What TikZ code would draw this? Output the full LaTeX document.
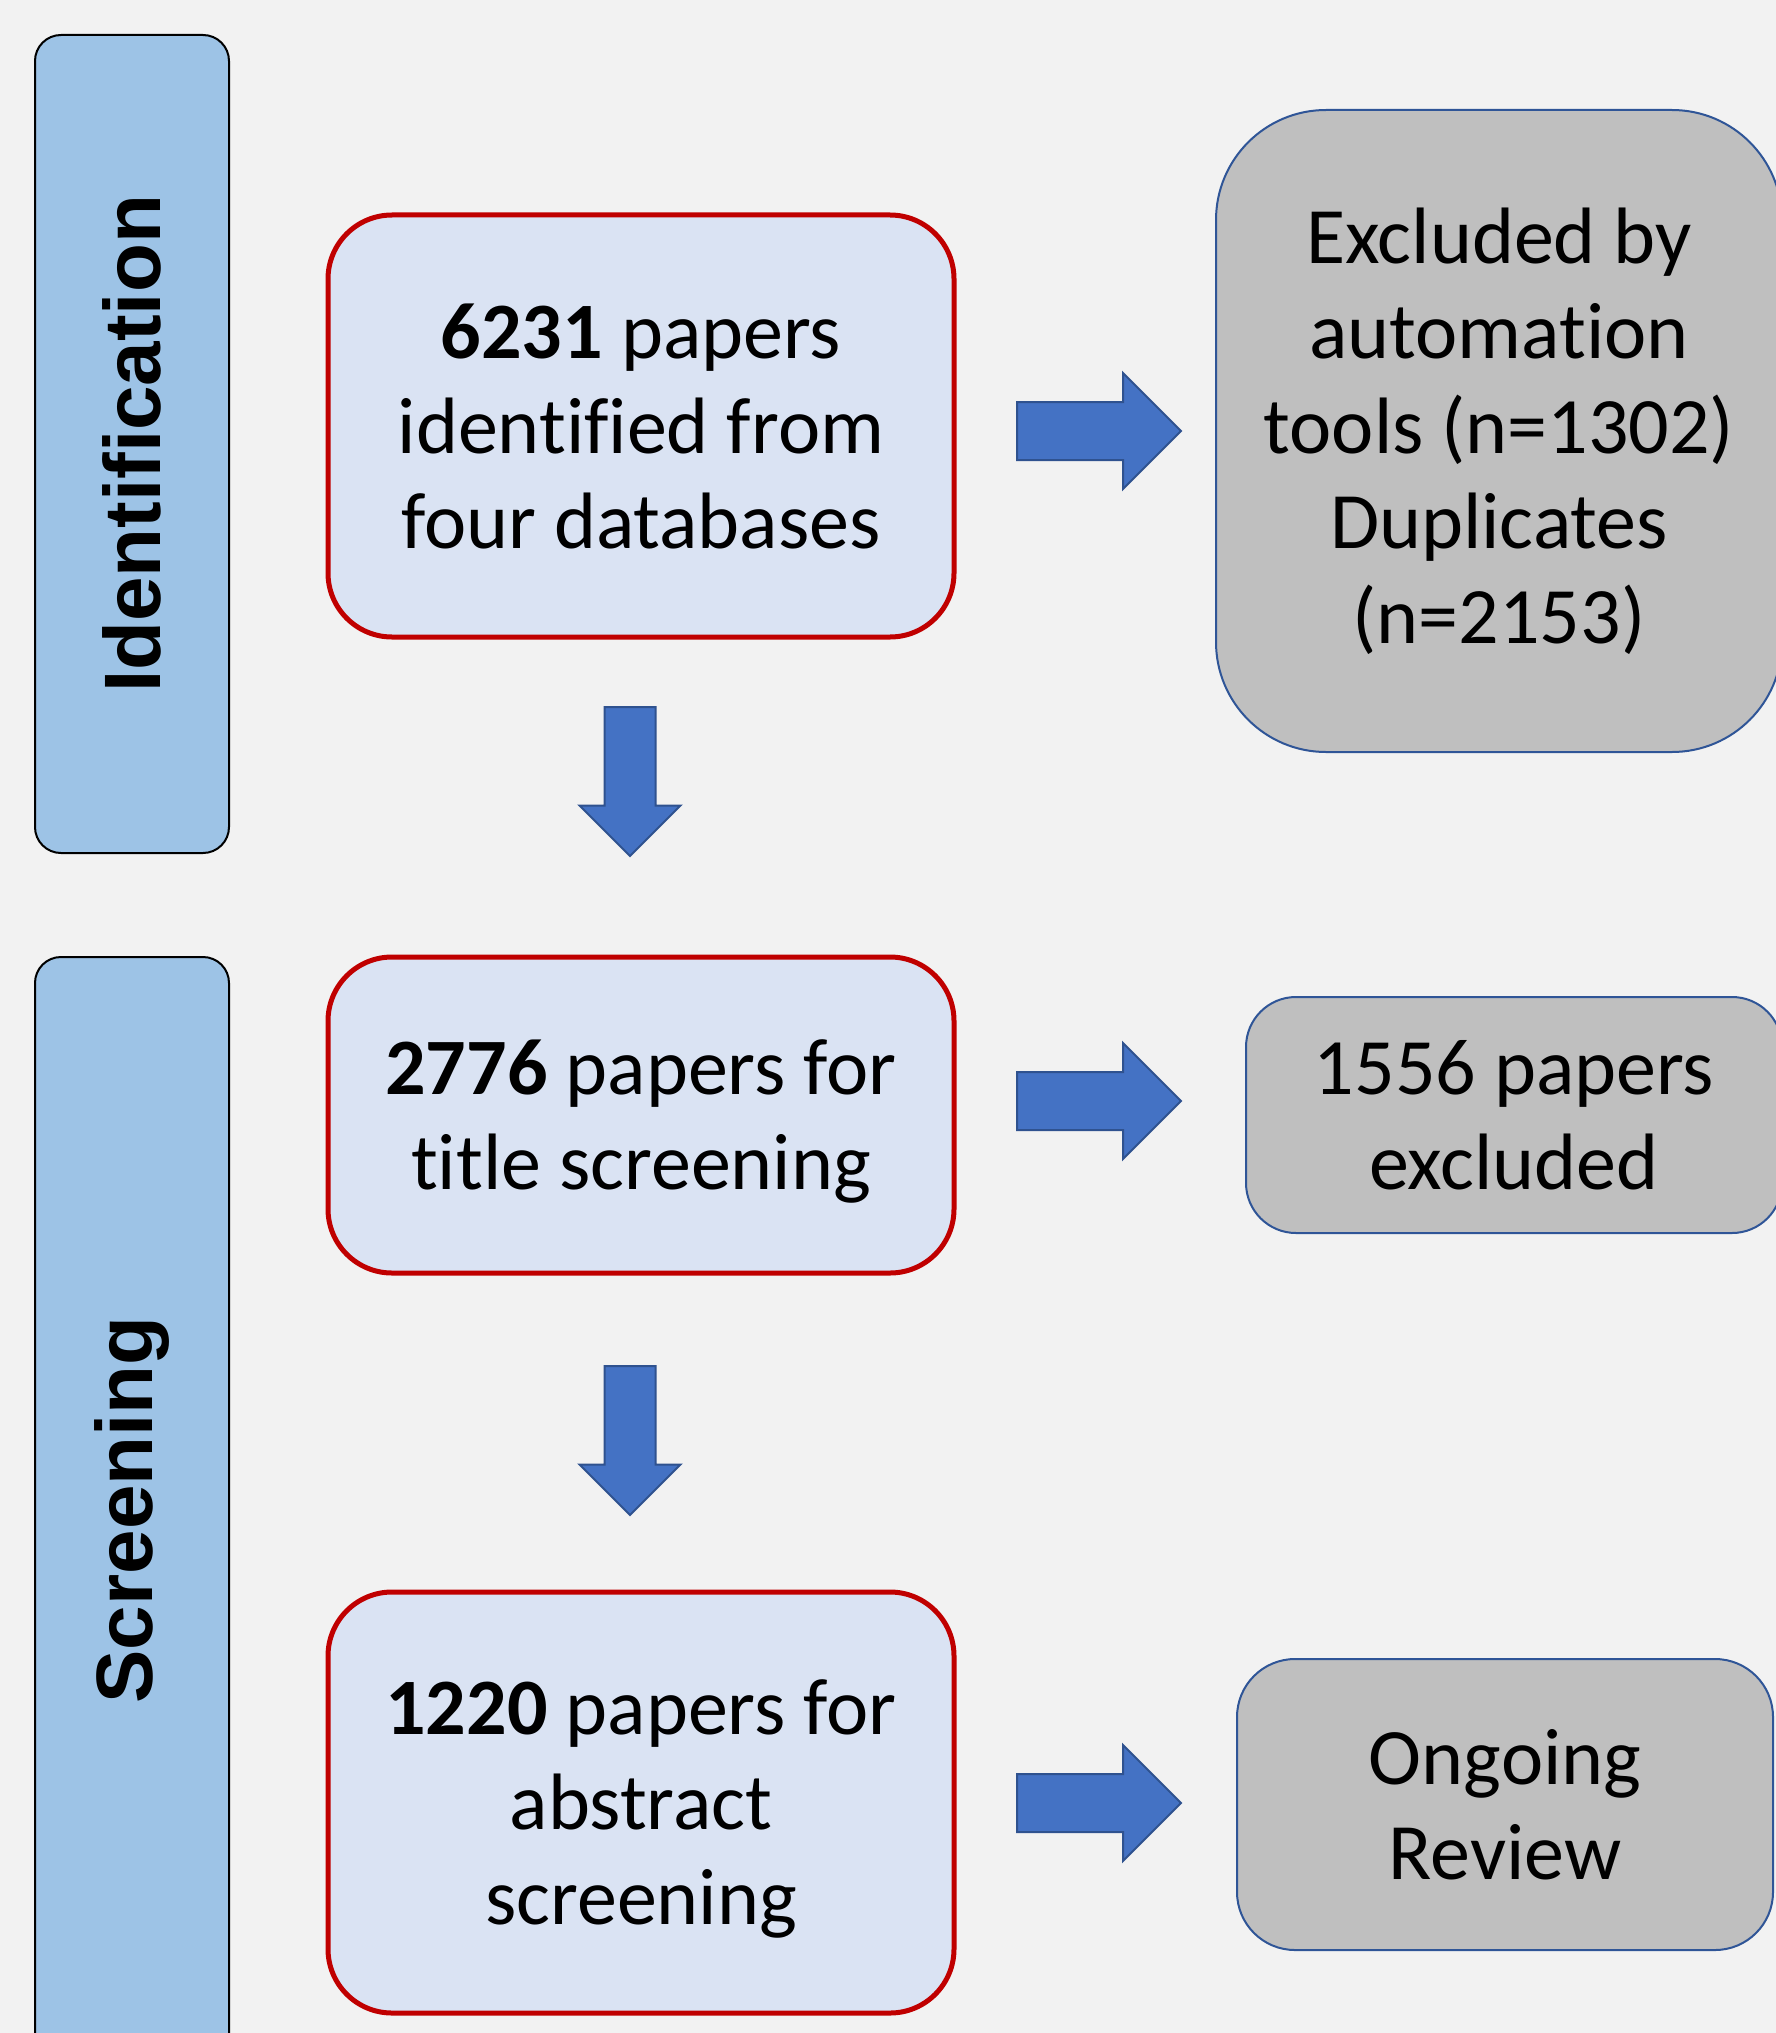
\documentclass[tikz,border=0pt]{standalone}
\usepackage{fontspec}
\setmainfont{Carlito}[RawFeature={-liga;-clig;-dlig;-calt}]
\newfontfamily\barfont{Liberation Sans}
\usetikzlibrary{shapes.arrows}
\definecolor{pagebg}{HTML}{F2F2F2}
\definecolor{barblue}{HTML}{9DC3E6}
\definecolor{boxfill}{HTML}{DAE3F3}
\definecolor{boxred}{HTML}{C00000}
\definecolor{greyfill}{HTML}{BFBFBF}
\definecolor{greyline}{HTML}{2F5597}
\definecolor{arrowfill}{HTML}{4472C4}
\definecolor{arrowline}{HTML}{2F528F}
\begin{document}
\begin{tikzpicture}[x=0.5pt,y=-0.5pt,
    phase/.style={draw=black,line width=1pt,fill=barblue,rounded corners=13pt,rotate=90,
      minimum height=97pt,inner sep=0pt,font=\barfont\bfseries\fontsize{40}{48}\selectfont},
    stagebox/.style={draw=boxred,line width=2.5pt,fill=boxfill,rounded corners=32pt,
      minimum width=313pt,align=center,inner sep=0pt,text depth=0pt,
      font=\fontsize{40}{47.5}\selectfont},
    outbox/.style={draw=greyline,line width=1pt,fill=greyfill,align=center,inner sep=0pt,
      font=\fontsize{40}{47.5}\selectfont},
    rarrow/.style={single arrow,draw=arrowline,line width=1pt,fill=arrowfill,
      single arrow head extend=14.5pt,single arrow tip angle=90,
      inner xsep=0pt,inner ysep=14pt,minimum height=82pt,anchor=tail},
    darrow/.style={rarrow,rotate=-90,single arrow head extend=12.5pt,
      inner ysep=12.25pt,minimum height=74.5pt}]
  \useasboundingbox (0,0) rectangle (1776,2033);
  \fill[pagebg] (0,0) rectangle (1776,2033);
  % phase bars
  \node[phase,minimum width=409pt] (ident) at (132,444) {Identification};
  \node[phase,minimum width=553pt] (screen) at (132,1510) {Screening};
  % paper counts
  \node[stagebox,minimum height=211pt] (found) at (641,426)
    {\textbf{6231} papers\\identified from\\four databases};
  \node[stagebox,minimum height=158pt] (title) at (641,1115)
    {\textbf{2776} papers for\\title screening};
  \node[stagebox,minimum height=210.5pt] (abstract) at (641,1802.5)
    {\textbf{1220} papers for\\abstract\\screening};
  % outcomes
  \node[outbox,rounded corners=55pt,minimum width=283pt,minimum height=321pt] (dropped) at (1499,431)
    {Excluded by\\automation\\tools (n=1302)\\Duplicates\\(n=2153)};
  \node[outbox,rounded corners=25pt,minimum width=268pt,minimum height=118pt] (titleout) at (1514,1115)
    {1556 papers\\excluded};
  \node[outbox,rounded corners=29pt,minimum width=268pt,minimum height=145.5pt] (ongoing) at (1505,1804.5)
    {Ongoing\\Review};
  % block arrows
  \foreach \y/\name in {431/todropped,1101/totitleout,1803/toongoing} {
    \node[rarrow] (\name) at (1016,\y) {};
  }
  \foreach \y/\name in {706/totitle,1365/toabstract} {
    \node[darrow] (\name) at (630,\y) {};
  }
\end{tikzpicture}
\end{document}
